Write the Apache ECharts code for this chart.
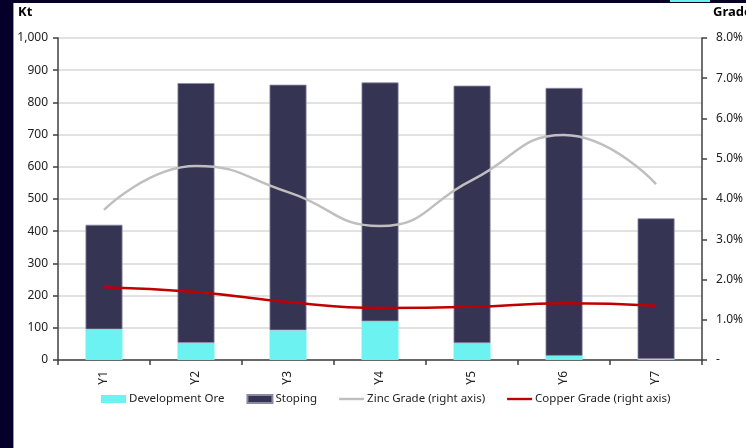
<!DOCTYPE html>
<html>
<head>
<meta charset="utf-8">
<title>Ore and grade</title>
<script src="https://cdn.jsdelivr.net/npm/echarts@6/dist/echarts.min.js"></script>
<style>
  html, body { margin: 0; padding: 0; background: #fff; }
  #chart { width: 746px; height: 448px; }
</style>
</head>
<body>
<div id="chart"></div>
<script>
// data
var years = ['Y1', 'Y2', 'Y3', 'Y4', 'Y5', 'Y6', 'Y7'];
var devOre = [95, 53, 92, 120, 52, 13, 3];
var stoping = [325, 807, 763, 742, 800, 832, 437];
var zincGrade = [0.0373, 0.0482, 0.0417, 0.0333, 0.0447, 0.0559, 0.0437];
var copperGrade = [0.0181, 0.0169, 0.0144, 0.0129, 0.0132, 0.0141, 0.0135];

var font = 'Noto Sans';
var chart = echarts.init(document.getElementById('chart'));

chart.setOption({
  animation: false,
  textStyle: { fontFamily: font },
  grid: { left: 58, right: 39, top: 38, bottom: 88 },
  graphic: [
    // dark frame of the slide
    { type: 'rect', left: 0, top: 0, shape: { width: 746, height: 3 }, style: { fill: '#05002a' } },
    { type: 'rect', left: 0, top: 0, shape: { width: 13, height: 448 }, style: { fill: '#05002a' } },
    { type: 'rect', left: 13, top: 3, shape: { width: 1, height: 445 }, style: { fill: '#9a9a9a' } },
    { type: 'rect', left: 670, top: 0, shape: { width: 40, height: 2 }, style: { fill: '#66f2f0' } },
    { type: 'text', left: 18, top: 6, style: { text: 'Kt', font: 'bold 13px ' + font, fill: '#000' } },
    { type: 'text', left: 713, top: 6, style: { text: 'Grade', font: 'bold 13px ' + font, fill: '#000' } }
  ],
  legend: {
    left: 101,
    top: 393,
    padding: 0,
    itemWidth: 25,
    itemHeight: 8,
    itemGap: 22,
    textStyle: { fontSize: 11.5, color: '#222', fontFamily: font, padding: [0, 0, 0, -2] },
    data: [
      { name: 'Development Ore', icon: 'rect' },
      { name: 'Stoping', icon: 'rect' },
      { name: 'Zinc Grade (right axis)', icon: 'path://M0,3h26v2.5h-26z' },
      { name: 'Copper Grade (right axis)', icon: 'path://M0,3h26v2.5h-26z' }
    ]
  },
  xAxis: {
    type: 'category',
    data: years,
    axisLine: { lineStyle: { color: '#404040', width: 1.5 } },
    axisTick: { show: true, length: 5, lineStyle: { color: '#404040', width: 1.5 } },
    axisLabel: { rotate: 90, color: '#222', fontSize: 12, margin: 11 }
  },
  yAxis: [
    {
      type: 'value',
      min: 0,
      max: 1000,
      interval: 100,
      axisLine: { show: true, lineStyle: { color: '#404040', width: 1.5 } },
      axisTick: { show: true, length: 5, lineStyle: { color: '#404040', width: 1.5 } },
      axisLabel: {
        color: '#222',
        fontSize: 12,
        margin: 10,
        formatter: function (v) { return v.toLocaleString('en-US'); }
      },
      splitLine: { lineStyle: { color: '#d9d9d9', width: 1.5 } }
    },
    {
      type: 'value',
      min: 0,
      max: 0.08,
      interval: 0.01,
      position: 'right',
      axisLine: { show: true, lineStyle: { color: '#404040', width: 1.5 } },
      axisTick: { show: true, length: 5, lineStyle: { color: '#404040', width: 1.5 } },
      axisLabel: {
        color: '#222',
        fontSize: 12,
        margin: 14,
        formatter: function (v) { return v === 0 ? '-' : (v * 100).toFixed(1) + '%'; }
      },
      splitLine: { show: false }
    }
  ],
  series: [
    {
      name: 'Development Ore',
      type: 'bar',
      stack: 'ore',
      barWidth: 37,
      data: devOre,
      itemStyle: { color: '#6cf3f1' }
    },
    {
      name: 'Stoping',
      type: 'bar',
      stack: 'ore',
      barWidth: 37,
      data: stoping,
      itemStyle: { color: '#353452', borderColor: '#8a8aa6', borderWidth: 0.8 }
    },
    {
      name: 'Zinc Grade (right axis)',
      type: 'line',
      yAxisIndex: 1,
      smooth: true,
      symbol: 'none',
      data: zincGrade,
      lineStyle: { color: '#bfbfbf', width: 2.5 },
      itemStyle: { color: '#bfbfbf' }
    },
    {
      name: 'Copper Grade (right axis)',
      type: 'line',
      yAxisIndex: 1,
      smooth: true,
      symbol: 'none',
      data: copperGrade,
      lineStyle: { color: '#c00000', width: 2.5 },
      itemStyle: { color: '#c00000' }
    }
  ]
});
</script>
</body>
</html>
